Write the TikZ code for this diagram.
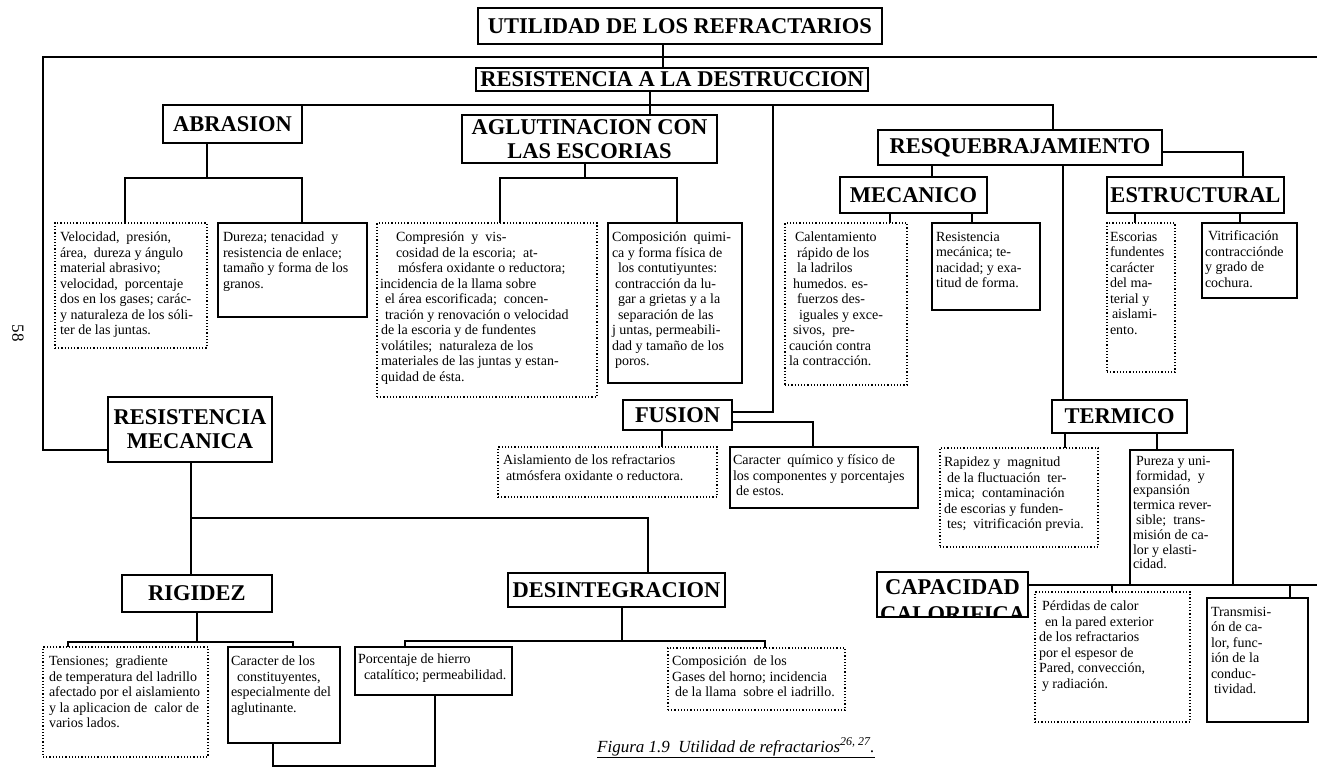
\documentclass[tikz,border=0pt]{standalone}
\usepackage{fontspec}
\setmainfont{Liberation Serif}
\usetikzlibrary{calc}
\newcommand\bodyfont{\fontsize{14}{15.5}\selectfont}
\newcommand\hdfont{\fontsize{22.5}{24}\selectfont\bfseries}
\tikzset{
  hd/.style={draw, line width=2.2pt, font=\hdfont, inner sep=0pt, outer sep=0pt, anchor=north west, align=center},
  sb/.style={draw, line width=1.7pt},
  db/.style={draw, line width=1.2pt, dash pattern=on 1.2pt off 2pt},
  conn/.style={line width=1.8pt},
}
\newcommand\hdnode[6]{\node[hd, minimum width={#4pt-#2pt}, minimum height={#5pt-#3pt}] (#1) at (#2,#3) {#6};}
\newcommand\txbox[9]{\node[#2, inner xsep=#7pt, inner ysep=#8pt, anchor=north west, outer sep=0pt] (#1) at (#3,#4) {\parbox[t][\dimexpr#6pt-#4pt-#8pt-#8pt\relax][t]{\dimexpr#5pt-#3pt-#7pt-#7pt\relax}{\bodyfont\raggedright #9}};}
\begin{document}
\begin{tikzpicture}[x=1pt,y=-1pt]
\useasboundingbox (0,0) rectangle (1317,772);
% headings
\hdnode{title}{478}{8}{882}{44}{UTILIDAD DE LOS REFRACTARIOS}
\hdnode{rad}{476}{68}{868}{91}{RESISTENCIA A LA DESTRUCCION}
\hdnode{abr}{163}{105}{302}{143}{ABRASION}
\hdnode{agl}{462}{115}{717}{163}{AGLUTINACION CON\\LAS ESCORIAS}
\hdnode{resq}{878}{130}{1162}{165}{RESQUEBRAJAMIENTO}
\hdnode{mec}{840}{177}{987}{213}{MECANICO}
\hdnode{est}{1107}{177}{1284}{213}{ESTRUCTURAL}
\hdnode{rmec}{108}{397}{272}{462}{RESISTENCIA\\MECANICA}
\hdnode{fus}{623}{400}{732}{430}{FUSION}
\hdnode{ter}{1052}{400}{1187}{433}{TERMICO}
\hdnode{rig}{122}{575}{272}{612}{RIGIDEZ}
\hdnode{des}{508}{573}{725}{607}{DESINTEGRACION}
% capacidad calorifica (lower line cut by the box edge)
\begin{scope}
\clip (870,565) rectangle (1035,617);
\node[font=\hdfont, anchor=base, inner sep=0pt] (capa) at (952.5,594) {CAPACIDAD};
\node[font=\hdfont, anchor=base, inner sep=0pt] (capb) at (952.5,621) {CALORIFICA};
\end{scope}
\node[hd, minimum width=151pt, minimum height=45pt] (cap) at (877,572) {};
% text boxes
\txbox{vel}{db}{55}{223}{207}{348}{5}{9}{Velocidad,\ \ presión,\\área,\ \ dureza y ángulo\\material abrasivo;\\velocidad,\ \ porcentaje\\dos en los gases; carác-\\y naturaleza de los sóli-\\ter de las juntas.}
\txbox{dur}{sb}{218}{223}{367}{317}{5}{9}{Dureza; tenacidad\ \ y\\resistencia de enlace;\\tamaño y forma de los\\granos.}
\txbox{comp}{db}{377}{223}{597}{397}{3}{9}{\hspace*{16pt}Compresión\ \ y\ \ vis-\\\hspace*{16pt}cosidad de la escoria;\ \ at-\\\hspace*{18pt}mósfera oxidante o reductora;\\incidencia de la llama sobre\\\hspace*{5pt}el área escorificada;\ \ concen-\\\hspace*{5pt}tración y renovación o velocidad\\\hspace*{1pt}de la escoria y de fundentes\\\hspace*{1pt}volátiles;\ \ naturaleza de los\\\hspace*{1pt}materiales de las juntas y estan-\\\hspace*{1pt}quidad de ésta.}
\txbox{cmpq}{sb}{608}{223}{742}{383}{4}{9}{Composición\ \ quimi-\\ca y forma física de\\\hspace*{6pt}los contutiyuntes:\\\hspace*{3pt}contracción da lu-\\\hspace*{6pt}gar a grietas y a la\\\hspace*{6pt}separación de las\\j untas, permeabili-\\dad y tamaño de los\\\hspace*{3pt}poros.}
\txbox{cal}{db}{785}{223}{907}{385}{4}{9}{\hspace*{6pt}Calentamiento\\\hspace*{8pt}rápido de los\\\hspace*{8pt}la ladrilos\\\hspace*{4pt}humedos. es-\\\hspace*{8pt}fuerzos des-\\\hspace*{10pt}iguales y exce-\\\hspace*{4pt}sivos,\ \ pre-\\caución contra\\la contracción.}
\txbox{resm}{sb}{932}{223}{1040}{310}{4}{9}{Resistencia\\mecánica; te-\\nacidad; y exa-\\titud de forma.}
\txbox{esc}{db}{1107}{223}{1175}{372}{3}{9}{Escorias\\fundentes\\carácter\\del ma-\\terial y\\\hspace*{2pt}aislami-\\ento.}
\txbox{vit}{sb}{1202}{223}{1297}{298}{3}{8}{\hspace*{3pt}Vitrificación\\contracciónde\\y grado de\\cochura.}
\txbox{ais}{db}{498}{447}{717}{497}{5}{8}{Aislamiento de los refractarios\\\hspace*{3pt}atmósfera oxidante o reductora.}
\txbox{carq}{sb}{730}{447}{918}{508}{3}{8}{Caracter\ \ químico y físico de\\los componentes y porcentajes\\\hspace*{3pt}de estos.}
\txbox{rap}{db}{940}{448}{1098}{547}{4}{9}{Rapidez y\ \ magnitud\\\hspace*{3pt}de la fluctuación\ \ ter-\\mica;\ \ contaminación\\de escorias y funden-\\\hspace*{3pt}tes;\ \ vitrificación previa.}
\txbox{pur}{sb}{1130}{450}{1233}{585}{3}{6}{\fontsize{14}{14.8}\selectfont\hspace*{3pt}Pureza y uni-\\\hspace*{3pt}formidad,\ \ y\\expansión\\termica rever-\\\hspace*{3pt}sible;\ \ trans-\\misión de ca-\\lor y elasti-\\cidad.}
\txbox{ten}{db}{43}{647}{208}{757}{6}{9}{Tensiones;\ \ gradiente\\de temperatura del ladrillo\\afectado por el aislamiento\\y la aplicacion de\ \ calor de\\varios lados.}
\txbox{carc}{sb}{228}{647}{340}{743}{3}{9}{Caracter de los\\\hspace*{6pt}constituyentes,\\especialmente del\\aglutinante.}
\txbox{por}{sb}{355}{647}{512}{695}{3}{7}{Porcentaje de hierro\\\hspace*{6pt}catalítico; permeabilidad.}
\txbox{cgas}{db}{668}{648}{845}{710}{4}{8}{Composición\ \ de los\\Gases del horno; incidencia\\\hspace*{3pt}de la llama\ \ sobre el iadrillo.}
\txbox{per}{db}{1035}{592}{1190}{722}{4}{9}{\hspace*{3pt}Pérdidas de calor\\\hspace*{6pt}en la pared exterior\\de los refractarios\\por el espesor de\\Pared, convección,\\\hspace*{3pt}y radiación.}
\txbox{tra}{sb}{1207}{598}{1308}{722}{4}{9}{Transmisi-\\ón de ca-\\lor, func-\\ión de la\\conduc-\\\hspace*{3pt}tividad.}
% page number and caption
\node[rotate=-90, font=\fontsize{17}{17}\selectfont, inner sep=0pt] (pg) at (18,333) {58};
\node[anchor=base west, inner sep=0pt, font=\fontsize{17}{20}\selectfont\itshape] (fig) at (597,752) {\underline{Figura 1.9\ \ Utilidad de refractarios\textsuperscript{26,\ 27}.}};
% connectors
\coordinate (l1w) at (43,57);
\coordinate (l1e) at (1317,57);
\draw[conn] (663,0 |- title.south) -- (663,0 |- rad.north);
\draw[conn] (l1e) -- (l1w) -- (43,450) -- (rmec.west |- 0,450);
\draw[conn] (650,0 |- rad.south) -- (650,0 |- agl.north);
\draw[conn] (abr.north west) -- (1053,105) -- (1053,0 |- resq.north);
\draw[conn] (773,105) -- (773,412) -- (fus.east |- 0,412);
\draw[conn] (fus.east |- 0,422) -- (813,422) -- (813,0 |- carq.north);
\draw[conn] (662,0 |- fus.south) -- (662,0 |- ais.north);
\draw[conn] (207,0 |- abr.south) -- (207,178);
\draw[conn] (125,0 |- vel.north) -- (125,178) -- (302,178) -- (302,0 |- dur.north);
\draw[conn] (585,0 |- agl.south) -- (585,178);
\draw[conn] (500,0 |- comp.north) -- (500,178) -- (677,178) -- (677,0 |- cmpq.north);
\draw[conn] (932,0 |- resq.south) -- (932,0 |- mec.north);
\draw[conn] (resq.east |- 0,152) -- (1243,152) -- (1243,0 |- est.north);
\draw[conn] (1063,0 |- resq.south) -- (1063,0 |- ter.north);
\draw[conn] (890,0 |- mec.south) -- (890,0 |- cal.north);
\draw[conn] (972,0 |- mec.south) -- (972,0 |- resm.north);
\draw[conn] (1135,0 |- est.south) -- (1135,0 |- esc.north);
\draw[conn] (1240,0 |- est.south) -- (1240,0 |- vit.north);
\draw[conn] (1065,0 |- ter.south) -- (1065,0 |- rap.north);
\draw[conn] (1157,0 |- ter.south) -- (1157,0 |- pur.north);
\draw[conn] (191,0 |- rmec.south) -- (191,0 |- rig.north);
\draw[conn] (191,518) -- (648,518) -- (648,0 |- des.north);
\draw[conn] (197,0 |- rig.south) -- (197,642);
\draw[conn] (68,0 |- ten.north) -- (68,642) -- (293,642) -- (293,0 |- carc.north);
\draw[conn] (622,0 |- des.south) -- (622,641);
\draw[conn] (405,0 |- por.north) -- (405,641) -- (765,641) -- (765,0 |- cgas.north);
\draw[conn] (273,0 |- carc.south) -- (273,766) -- (435,766) -- (435,0 |- por.south);
\draw[conn] (cap.east |- 0,585) -- (1317,585);
\draw[conn] (1112,585) -- (1112,0 |- per.north);
\draw[conn] (1290,585) -- (1290,0 |- tra.north);
\end{tikzpicture}
\end{document}
